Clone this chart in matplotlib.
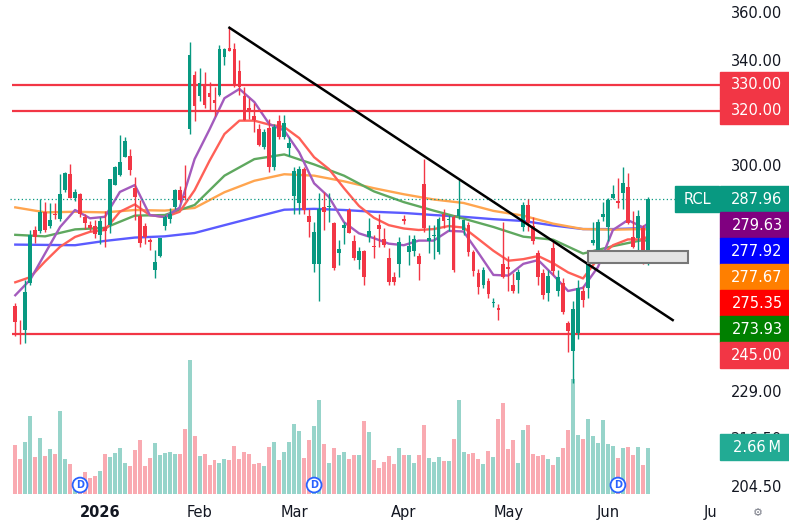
import numpy as np
import matplotlib.pyplot as plt
import matplotlib.transforms as mtrans
from matplotlib.patches import Rectangle
from matplotlib.ticker import NullLocator

# RCL daily candles, Dec 8 2025 .. Jun 11 2026 (one entry per session)
opens = [253.3, 245.3, 246.3, 260.5, 277.4, 277.2, 283.5, 278.8, 283.0, 281.0,
         291.0, 296.6, 288.2, 289.6, 282.0, 279.0, 278.7, 275.8, 278.4, 279.0,
         292.8, 296.3, 302.6, 303.3, 291.7, 282.3, 278.7, 274.1, 264.4, 269.1,
         278.7, 281.0, 285.1, 291.0, 288.9, 313.0, 334.0, 325.6, 329.7, 326.9,
         324.1, 326.2, 341.1, 344.7, 344.3, 335.6, 325.8, 321.2, 317.8, 313.0,
         306.3, 313.4, 299.0, 315.9, 310.0, 306.0, 288.9, 286.6, 298.3, 282.3,
         266.6, 266.6, 285.1, 285.1, 279.7, 270.0, 278.0, 284.1, 273.8, 267.6,
         270.5, 275.1, 272.2, 279.3, 274.4, 268.3, 262.2, 266.6, 281.3, 270.2,
         270.5, 268.9, 293.2, 273.8, 275.5, 270.2, 283.0, 280.7, 282.0, 282.3,
         277.5, 279.0, 270.2, 263.5, 259.8, 261.0, 254.3, 252.9, 266.6, 265.4,
         259.8, 261.3, 278.4, 285.8, 278.7, 270.0, 263.5, 257.5, 271.5, 258.1,
         260.4, 248.4, 240.2, 245.3, 258.1, 258.8, 273.1, 270.2, 281.7, 278.4,
         288.2, 287.2, 290.0, 292.0, 275.1, 274.7, 278.0, 267.0]
highs = [254.3, 249.2, 261.4, 277.5, 278.7, 287.9, 286.8, 286.5, 286.5, 296.6,
         297.3, 300.3, 291.3, 289.9, 282.7, 280.5, 280.8, 282.0, 284.0, 295.0,
         299.6, 311.0, 310.0, 305.5, 295.5, 287.5, 279.7, 275.0, 270.8, 275.0,
         282.5, 285.0, 291.3, 292.5, 300.0, 347.5, 335.5, 336.6, 335.0, 331.0,
         329.0, 346.0, 345.0, 353.3, 346.8, 340.0, 329.3, 325.0, 323.0, 315.0,
         313.0, 317.0, 315.0, 318.5, 318.5, 310.0, 299.0, 299.5, 299.0, 284.7,
         280.0, 290.0, 290.3, 290.0, 280.0, 274.2, 280.0, 285.0, 276.0, 272.0,
         271.0, 281.6, 275.8, 283.0, 278.0, 271.5, 264.0, 275.1, 282.5, 275.8,
         276.0, 270.0, 302.0, 279.0, 279.0, 282.0, 284.5, 282.5, 282.5, 294.5,
         279.5, 280.0, 271.0, 265.0, 265.5, 262.0, 256.0, 254.0, 280.0, 269.0,
         263.5, 265.0, 287.0, 288.0, 282.0, 271.0, 265.0, 264.5, 273.5, 264.5,
         262.0, 249.0, 255.0, 261.5, 259.5, 268.0, 280.0, 281.0, 287.0, 288.2,
         292.8, 295.2, 299.0, 296.9, 284.0, 284.1, 279.0, 288.5]
lows = [244.5, 242.3, 242.5, 259.8, 273.1, 276.5, 276.8, 278.2, 281.0, 280.5,
        290.3, 288.2, 287.2, 281.7, 277.7, 277.3, 274.8, 273.0, 272.0, 276.5,
        292.8, 296.0, 302.6, 296.3, 280.8, 271.8, 273.0, 270.8, 262.0, 268.6,
        277.5, 279.7, 284.7, 286.9, 287.5, 311.3, 316.0, 323.8, 321.0, 320.0,
        318.0, 325.5, 338.0, 343.5, 329.3, 326.0, 316.4, 317.0, 312.0, 306.9,
        305.5, 297.3, 298.0, 309.5, 309.5, 303.0, 283.0, 283.0, 283.0, 275.1,
        263.8, 255.0, 277.4, 280.0, 264.5, 266.1, 273.0, 276.4, 267.8, 265.0,
        259.8, 273.5, 268.5, 272.0, 272.0, 260.0, 259.8, 262.2, 279.5, 266.1,
        269.0, 261.3, 276.7, 270.0, 268.0, 269.5, 278.0, 277.0, 263.8, 281.0,
        276.0, 269.0, 262.8, 257.0, 259.0, 256.0, 253.0, 249.3, 262.0, 258.0,
        257.5, 257.5, 277.0, 277.0, 273.0, 260.0, 255.5, 255.0, 263.0, 256.5,
        251.0, 240.0, 231.1, 243.5, 253.0, 256.0, 272.5, 270.2, 280.5, 274.0,
        287.8, 285.0, 284.4, 279.5, 271.5, 270.0, 266.6, 266.0]
closes = [248.7, 244.9, 257.7, 275.8, 275.1, 283.5, 277.5, 280.8, 282.6, 289.6,
          296.9, 288.3, 290.3, 282.7, 279.7, 278.0, 276.1, 280.4, 277.1, 294.8,
          299.3, 301.0, 308.5, 298.0, 288.6, 273.1, 275.1, 273.5, 267.0, 274.7,
          282.0, 283.0, 290.9, 287.5, 288.2, 342.1, 321.7, 330.9, 322.0, 325.4,
          323.0, 344.3, 344.3, 343.5, 329.6, 329.3, 316.4, 320.4, 316.4, 307.3,
          312.0, 299.0, 313.7, 310.0, 315.2, 308.0, 297.6, 298.3, 284.1, 280.0,
          276.7, 284.7, 283.4, 285.4, 265.1, 271.2, 279.3, 276.4, 268.3, 270.5,
          262.2, 277.1, 271.9, 277.7, 272.5, 260.7, 260.7, 273.5, 280.4, 272.2,
          274.4, 266.6, 278.0, 274.7, 275.8, 281.0, 280.4, 281.0, 264.4, 284.4,
          280.8, 270.2, 264.1, 259.1, 264.4, 257.2, 254.6, 252.3, 262.2, 264.8,
          258.1, 263.8, 285.8, 279.7, 273.8, 262.2, 256.8, 262.8, 264.1, 262.2,
          251.7, 245.9, 252.6, 258.8, 255.1, 266.6, 274.1, 280.0, 283.0, 287.5,
          289.6, 286.5, 293.5, 279.7, 271.9, 282.3, 269.2, 287.96]
# volume in millions
volumes = [2.85, 2.06, 3.0, 4.53, 2.16, 3.25, 2.21, 2.6, 2.33, 4.82,
           2.02, 1.75, 0.8, 0.9, 1.31, 0.96, 1.04, 1.36, 2.33, 2.16,
           2.37, 2.68, 1.81, 1.62, 2.56, 3.14, 1.62, 2.1, 2.97, 2.27,
           2.37, 2.45, 2.33, 2.33, 3.79, 7.76, 3.39, 2.2, 2.33, 1.69,
           1.98, 1.81, 2.02, 1.98, 2.77, 2.06, 2.45, 2.33, 1.75, 1.81,
           1.65, 2.72, 3.01, 1.98, 2.46, 3.01, 4.06, 3.66, 2.1, 3.14,
           3.97, 5.47, 2.91, 1.81, 2.68, 2.27, 2.46, 2.02, 2.27, 2.27,
           4.24, 3.58, 1.98, 1.52, 1.88, 2.23, 1.75, 2.68, 2.27, 2.27,
           1.81, 2.27, 4.0, 2.1, 1.85, 2.16, 1.91, 1.94, 3.18, 5.47,
           2.43, 2.33, 2.37, 2.02, 1.75, 2.5, 2.16, 4.34, 5.26, 2.62,
           3.12, 1.79, 3.7, 4.0, 2.31, 2.21, 2.25, 2.06, 1.69, 2.14,
           2.66, 3.7, 6.65, 3.41, 3.2, 4.35, 3.37, 2.95, 4.28, 2.91,
           2.79, 2.08, 2.66, 2.72, 2.25, 2.72, 1.68, 2.66]

# moving averages (every 3rd / 6th session)
fast_idx = list(range(0, 127, 3)) + [127]
ma_purple = [256.7, 261.5, 269.9, 278.5, 284.2, 281.4, 281.9, 290.4, 292.8, 282.5,
             281.8, 285.0, 302.0, 312.9, 324.8, 328.4, 323.3, 314.9, 312.5, 304.5,
             293.4, 288.6, 280.1, 276.4, 274.8, 273.0, 272.5, 274.0, 274.0, 277.2,
             277.0, 270.0, 263.0, 262.8, 266.5, 267.7, 263.0, 258.0, 259.0, 265.5,
             277.5, 280.8, 278.4, 279.63]
ma_red = [260.7, 262.3, 267.3, 272.0, 275.2, 276.9, 277.5, 283.6, 286.1, 282.5,
          281.8, 283.6, 291.0, 301.4, 311.2, 316.2, 316.2, 314.7, 313.8, 309.7,
          302.7, 298.4, 291.7, 285.6, 281.6, 279.1, 278.0, 277.5, 277.8, 278.8,
          278.3, 274.5, 270.7, 267.5, 268.0, 269.0, 266.7, 263.8, 261.9, 268.2,
          272.5, 274.4, 274.4, 275.35]
slow_idx = list(range(0, 127, 6)) + [127]
ma_green = [275.9, 275.4, 277.7, 278.2, 282.3, 282.5, 285.9, 296.1, 302.0, 303.7,
            300.1, 296.1, 290.6, 286.9, 284.0, 281.3, 278.5, 275.3, 274.3, 269.8,
            272.2, 274.2, 273.93]
ma_orange = [285.1, 283.4, 283.6, 283.4, 284.2, 284.0, 284.9, 290.3, 294.3, 296.6,
             296.1, 294.1, 291.7, 289.6, 287.8, 286.6, 283.9, 282.3, 279.6, 277.8,
             277.6, 277.8, 277.67]
ma_blue = [272.7, 272.6, 272.5, 273.9, 275.0, 275.4, 276.5, 279.1, 281.7, 284.3,
           284.6, 284.2, 283.6, 283.2, 282.5, 281.9, 281.1, 280.5, 279.0, 277.8,
           277.8, 278.1, 277.92]

levels = [330, 320, 245]
trend_bars = [43, 132]
trend_prices = [353.3, 249.2]
zone_bars = [115, 135]
zone_prices = [266.9, 270.7]
dividend_bars = [13, 60, 121]
month_pos = [17, 37, 56, 78, 99, 119, 140]
month_labels = ['2026', 'Feb', 'Mar', 'Apr', 'May', 'Jun', 'Jul']
price_ticks = [360, 340, 300, 229, 216.5, 204.5]

W, H = 789, 527
fig = plt.figure(figsize=(W / 100, H / 100), dpi=100)
rect = [0, 1 - 498 / H, 720 / W, 498 / H]
axv = fig.add_axes(rect)
ax = fig.add_axes(rect, sharex=axv)
ax.set_zorder(2)
ax.patch.set_visible(False)
axv.set_zorder(1)

x = np.arange(len(closes))
o = np.array(opens)
c = np.array(closes)
up = c >= o
col = np.where(up, '#089981', '#f23645')

# volume pane
axv.bar(x, volumes, width=0.8, color=col, alpha=0.42, linewidth=0)
axv.set_ylim(-0.214, 28.57)
axv.axis('off')

# moving averages
ax.plot(slow_idx, ma_blue, color='#5b5bff', lw=1.7, zorder=2)
ax.plot(slow_idx, ma_orange, color='#ffa54f', lw=1.7, zorder=2)
ax.plot(slow_idx, ma_green, color='#5fa85f', lw=1.7, zorder=2)
ax.plot(fast_idx, ma_red, color='#ff6057', lw=1.7, zorder=2)
ax.plot(fast_idx, ma_purple, color='#a35bbd', lw=1.7, zorder=2)

# candles
ax.vlines(x, lows, highs, colors=col, lw=1, zorder=3)
ax.bar(x, np.maximum(np.abs(c - o), 0.4), bottom=np.minimum(o, c), width=0.75,
       color=col, linewidth=0, zorder=4)

xmax = 141.5
for lv in levels:
    ax.hlines(lv, -0.7, xmax, color='#f23645', lw=1.6, zorder=2.5)
ax.hlines(closes[-1], -1.0, xmax, color='#089981', lw=0.9, linestyle=(0, (1, 2)), zorder=2)
ax.plot(trend_bars, trend_prices, color='black', lw=1.8, zorder=5)
ax.add_patch(Rectangle((zone_bars[0], zone_prices[0]), zone_bars[1] - zone_bars[0],
                       zone_prices[1] - zone_prices[0], facecolor='#e3e3e3',
                       edgecolor='#777777', lw=1.5, zorder=5))

ax.set_yscale('log')
ax.set_ylim(201.5, 365.2)
ax.set_xlim(-3.07, xmax)
ax.yaxis.set_minor_locator(NullLocator())
ax.set_yticks(price_ticks, ['%.2f' % t for t in price_ticks])
ax.yaxis.tick_right()
ax.tick_params(axis='y', length=0, pad=8, labelsize=10.5, labelcolor='#131722')
ax.set_xticks(month_pos, month_labels)
ax.tick_params(axis='x', length=0, pad=5, labelsize=10.5, labelcolor='#131722')
ax.get_xticklabels()[0].set_fontweight('bold')
for s in ax.spines.values():
    s.set_visible(False)

# dividend markers
tr = mtrans.blended_transform_factory(ax.transData, ax.transAxes)
for b in dividend_bars:
    ax.text(b, 0.026, 'D', transform=tr, ha='center', va='center', fontsize=7,
            color='#2962ff', fontweight='bold', zorder=6,
            bbox=dict(boxstyle='circle,pad=0.25', fc='white', ec='#2962ff', lw=1.3))


def label_box(x0, x1, yc, text, color, tx=757, h=26):
    fig.add_artist(Rectangle((x0 / W, (yc - h / 2) / H), (x1 - x0) / W, h / H,
                             transform=fig.transFigure, color=color, zorder=5))
    fig.text(tx / W, yc / H, text, ha='center', va='center', color='white',
             fontsize=10.5, zorder=6)


# the price scale hides the end of the last month label
fig.add_artist(Rectangle((716 / W, 0), 73 / W, 28 / H, transform=fig.transFigure,
                         color='white', zorder=4))
fig.text(758 / W, 14 / H, '\u2699', ha='center', va='center', fontsize=8,
         color='#787b86', zorder=6)

for lv in levels[:2]:
    yc = ax.transData.transform((0, lv))[1]
    label_box(720, 789, yc, '%.2f' % lv, '#f23645')

y0 = ax.transData.transform((0, closes[-1]))[1]
stack = [(closes[-1], '#089981'), (ma_purple[-1], '#800080'), (ma_blue[-1], '#0000ff'),
         (ma_orange[-1], '#ff7f00'), (ma_red[-1], '#ff0000'), (ma_green[-1], '#008000'),
         (levels[2], '#f23645')]
for k, (v, cc) in enumerate(stack):
    label_box(720, 789, y0 - 26 * k, '%.2f' % v, cc)
label_box(675, 719, y0, 'RCL', '#089981', tx=697)

yv = axv.transData.transform((0, volumes[-1]))[1] + 1
label_box(720, 789, yv, '%.2f\u2009M' % volumes[-1], '#22ab94')

plt.savefig('out.png', dpi=100)
